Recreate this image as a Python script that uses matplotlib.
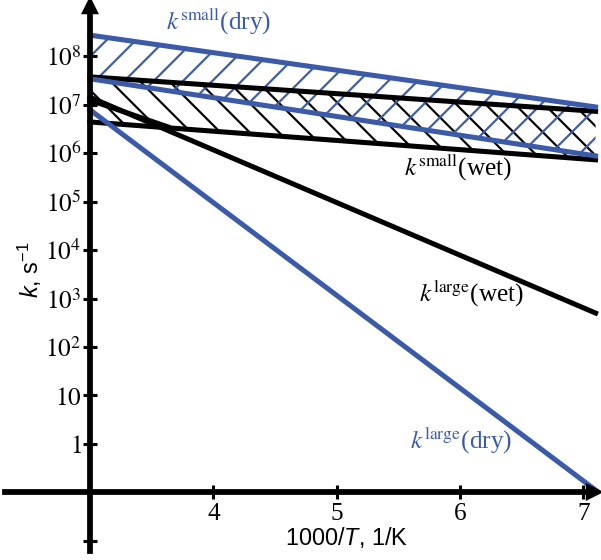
import numpy as np
import matplotlib
matplotlib.use('Agg')
import matplotlib.pyplot as plt
from matplotlib.ticker import NullLocator

# values (log10 k at the two ends of each line)
x_ends = [3.0, 7.1]
small_dry_hi = [8.43, 6.95]
small_dry_lo = [7.53, 5.94]
small_wet_hi = [7.57, 6.86]
small_wet_lo = [6.64, 5.86]
large_wet = [7.15, 2.70]
large_dry = [6.89, -0.95]
# short extra black edge near the y axis
wet_edge_x = [3.0, 3.63]
wet_edge_y = [7.09, 6.54]

ytick_vals = [1e-2, 1, 10, 1e2, 1e3, 1e4, 1e5, 1e6, 1e7, 1e8]
ytick_labels = ['', '$1$', '$10$', '$10^{2}$', '$10^{3}$', '$10^{4}$',
                '$10^{5}$', '$10^{6}$', '$10^{7}$', '$10^{8}$']
xtick_vals = [4, 5, 6, 7]
xtick_labels = ['4', '5', '6', '7']

blue = '#3b5ba9'
dpi = 176          # chosen so the hatch spacing matches
s = 130 / dpi      # sizes below were tuned at 130 dpi

plt.rcParams['mathtext.fontset'] = 'custom'
plt.rcParams['mathtext.rm'] = 'Liberation Sans'
plt.rcParams['mathtext.it'] = 'Liberation Sans:italic'
plt.rcParams['hatch.linewidth'] = 1.2 * s

fig = plt.figure(figsize=(601 / dpi, 560 / dpi), dpi=dpi)
ax = fig.add_axes([0, 0, 1, 1])
ax.set_yscale('log')
ax.set_xlim(2.27, 7.144)
ax.set_ylim(10 ** -2.392, 10 ** 9.155)

x = np.array(x_ends)
p = lambda v: 10 ** np.array(v)

# hatched bands
ax.fill_between(x, p(small_wet_lo), p(small_wet_hi), facecolor='none',
                edgecolor='black', hatch='\\\\', linewidth=0, zorder=2)
ax.fill_between(x, p(small_dry_lo), p(small_dry_hi), facecolor='none',
                edgecolor=blue, hatch='//', linewidth=0, zorder=3)

lw = 2.8 * s
ax.plot(x, p(large_wet), color='black', lw=lw, zorder=4)
ax.plot(wet_edge_x, p(wet_edge_y), color='black', lw=lw, zorder=4)
ax.plot(x, p(small_wet_hi), color='black', lw=lw, zorder=4)
ax.plot(x, p(small_wet_lo), color='black', lw=lw, zorder=4)
ax.plot(x, p(large_dry), color=blue, lw=lw, zorder=5, clip_on=False)
ax.plot(x, p(small_dry_hi), color=blue, lw=lw, zorder=5)
ax.plot(x, p(small_dry_lo), color=blue, lw=lw, zorder=5)

# axes through the origin
for sp in ['top', 'right']:
    ax.spines[sp].set_visible(False)
ax.spines['left'].set_position(('data', 3))
ax.spines['bottom'].set_position(('data', 0.1))
ax.spines['left'].set_bounds(10 ** -2.2, 10 ** 9.0)
ax.spines['bottom'].set_bounds(2.31, 7.07)
for sp in ['left', 'bottom']:
    ax.spines[sp].set_linewidth(3.2 * s)
    ax.spines[sp].set_zorder(6)
ax.plot([3], [10 ** 9.03], marker='^', color='black', ms=8 * s, clip_on=False, zorder=7)
ax.plot([7.09], [0.1], marker='>', color='black', ms=8 * s, clip_on=False, zorder=7)

ax.set_yticks(ytick_vals)
ax.set_yticklabels(ytick_labels, math_fontfamily='stix', fontsize=14 * s)
ax.yaxis.set_minor_locator(NullLocator())
ax.set_xticks(xtick_vals)
ax.set_xticklabels(xtick_labels, family='Liberation Serif', fontsize=14 * s)
ax.tick_params(direction='inout', length=7.5 * s, width=1.7 * s, pad=1 * s)
ax.tick_params(axis='x', pad=2 * s)

# curve labels
lab = dict(math_fontfamily='stix', family='Liberation Serif', fontsize=14 * s,
           ha='center', va='center')
ax.text(4.04, 10 ** 8.74, r'$k^{\mathrm{small}}$(dry)', color=blue, **lab)
ax.text(5.98, 10 ** 5.73, r'$k^{\mathrm{small}}$(wet)', color='black', **lab)
ax.text(6.09, 10 ** 3.13, r'$k^{\mathrm{large}}$(wet)', color='black', **lab)
ax.text(6.01, 10 ** 0.10, r'$k^{\mathrm{large}}$(dry)', color=blue, **lab)

fig.text(347 / 601, 1 - 538 / 560, '1000/$T$, 1/K', family='Liberation Sans',
         fontsize=13 * s, ha='center', va='center')
fig.text(30 / 601, 1 - 270 / 560, '$k$, s$^{-1}$', family='Liberation Sans',
         fontsize=13 * s, ha='center', va='center', rotation=90)

fig.savefig('out.png', dpi=dpi)
